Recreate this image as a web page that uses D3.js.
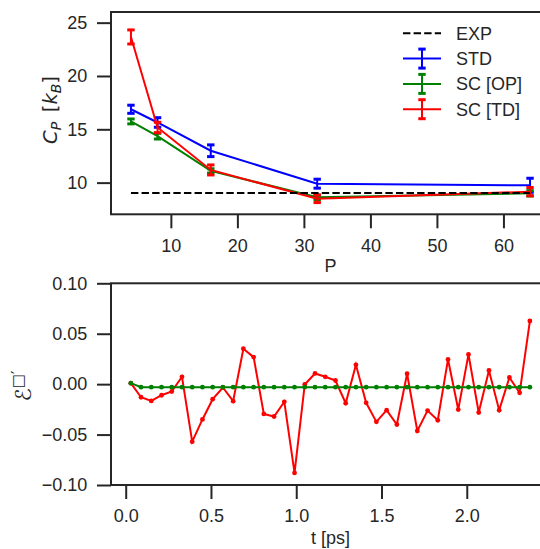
<!DOCTYPE html>
<html>
<head>
<meta charset="utf-8">
<script src="https://cdn.jsdelivr.net/npm/d3@7"></script>
<style>
  html, body { margin: 0; padding: 0; background: #fff; }
  svg { display: block; }
  text { font-family: "Liberation Sans", Arial, sans-serif; fill: #262626; }
</style>
</head>
<body>
<svg id="chart" width="540" height="549"></svg>
<script>
// ---------- Data: top panel ----------
const P = [4, 8, 16, 32, 64];
const stdMean = [16.88, 15.64, 12.99, 9.90, 9.75];
const stdErr  = [0.38, 0.45, 0.55, 0.42, 0.66];
const opMean  = [15.74, 14.36, 11.10, 8.62, 9.00];
const opErr   = [0.23, 0.27, 0.20, 0.20, 0.25];
const tdMean  = [23.66, 15.17, 11.19, 8.49, 9.15];
const tdErr   = [0.66, 0.49, 0.47, 0.36, 0.39];
const expValue = 9.03;
const topXTicks = [10, 20, 30, 40, 50, 60];
const topYTicks = [10, 15, 20, 25];

// ---------- Data: bottom panel ----------
const tPs = [0.03, 0.09, 0.15, 0.21, 0.27, 0.33, 0.39, 0.45, 0.51, 0.57,
             0.63, 0.69, 0.75, 0.81, 0.87, 0.93, 0.99, 1.05, 1.11, 1.17,
             1.23, 1.29, 1.35, 1.41, 1.47, 1.53, 1.59, 1.65, 1.71, 1.77,
             1.83, 1.89, 1.95, 2.01, 2.07, 2.13, 2.19, 2.25, 2.31, 2.37];
const redSeries = [0.001, -0.013, -0.0166, -0.011, -0.0073, 0.0073, -0.057, -0.035, -0.0149, -0.0033,
                   -0.0169, 0.0351, 0.0268, -0.0295, -0.0321, -0.0175, -0.088, -0.0003, 0.0106, 0.0073,
                   0.0036, -0.0189, 0.0192, -0.0185, -0.0374, -0.0258, -0.040, 0.0103, -0.0464, -0.0262,
                   -0.0358, 0.0245, -0.0252, 0.0295, -0.0281, 0.0136, -0.0258, 0.0066, -0.0086, 0.0626];
const greenSeries = [0.001, -0.003, -0.003, -0.003, -0.003, -0.003, -0.003, -0.003, -0.003, -0.003,
                     -0.003, -0.003, -0.003, -0.003, -0.003, -0.003, -0.003, -0.003, -0.003, -0.003,
                     -0.003, -0.003, -0.003, -0.003, -0.003, -0.003, -0.003, -0.003, -0.003, -0.003,
                     -0.003, -0.003, -0.003, -0.003, -0.003, -0.003, -0.003, -0.003, -0.003, -0.003];
const botXTicks = [0.0, 0.5, 1.0, 1.5, 2.0];
const botYTicks = [-0.10, -0.05, 0.00, 0.05, 0.10];

const legendItems = [
  { label: "EXP", color: "#000000", kind: "dash" },
  { label: "STD", color: "#0000ff", kind: "err" },
  { label: "SC [OP]", color: "#008000", kind: "err" },
  { label: "SC [TD]", color: "#ff0000", kind: "err" }
];

// ---------- Layout ----------
const svg = d3.select("#chart");
const FS = 18;
const AX = "#262626";
const left = 111, right = 550;
const top1 = 12, bot1 = 214.3;
const top2 = 283.3, bot2 = 485;

const x1 = d3.scaleLinear().domain([1, 67]).range([left, right]);
const y1 = d3.scaleLinear().domain([7.03, 26.0]).range([bot1, top1]);
const x2 = d3.scaleLinear().domain([-0.0862, 2.488]).range([left, right]);
const y2 = d3.scaleLinear().domain([-0.1, 0.1]).range([bot2, top2]);

const minusFmt = s => s.replace("-", "\u2212");

function drawAxes(g, xs, ys, xt, yt, xfmt, yfmt, topY, botY) {
  const xa = d3.axisBottom(xs).tickValues(xt).tickSize(14).tickPadding(10.5).tickFormat(d => minusFmt(xfmt(d)));
  const ya = d3.axisLeft(ys).tickValues(yt).tickSize(14).tickPadding(9.7).tickFormat(d => minusFmt(yfmt(d)));
  const gx = g.append("g").attr("transform", `translate(0,${botY})`).call(xa);
  const gy = g.append("g").attr("transform", `translate(${left},0)`).call(ya);
  [gx, gy].forEach(a => {
    a.select(".domain").remove();
    a.selectAll(".tick line").attr("stroke", AX).attr("stroke-width", 2);
    a.selectAll(".tick text").attr("font-size", FS).attr("fill", AX)
      .style("font-family", '"Liberation Sans", Arial, sans-serif');
  });
  g.append("rect").attr("x", left).attr("y", topY).attr("width", right - left).attr("height", botY - topY)
    .attr("fill", "none").attr("stroke", AX).attr("stroke-width", 2);
}

// ---------- Top panel ----------
const g1 = svg.append("g");
drawAxes(g1, x1, y1, topXTicks, topYTicks, d3.format("d"), d3.format("d"), top1, bot1);

function drawErrSeries(g, means, errs, color) {
  const line = d3.line().x((d, i) => x1(P[i])).y(d => y1(d));
  g.append("path").datum(means).attr("d", line).attr("fill", "none")
    .attr("stroke", color).attr("stroke-width", 2);
  const capW = 3.7;
  means.forEach((m, i) => {
    const cx = x1(P[i]);
    const yt = y1(m + errs[i]), yb = y1(m - errs[i]);
    g.append("line").attr("x1", cx).attr("x2", cx).attr("y1", yt).attr("y2", yb)
      .attr("stroke", color).attr("stroke-width", 2);
    [yt, yb].forEach(yy => g.append("line").attr("x1", cx - capW).attr("x2", cx + capW)
      .attr("y1", yy).attr("y2", yy).attr("stroke", color).attr("stroke-width", 3));
  });
}
drawErrSeries(g1, stdMean, stdErr, "#0000ff");
drawErrSeries(g1, opMean, opErr, "#008000");
drawErrSeries(g1, tdMean, tdErr, "#ff0000");

g1.append("line").attr("x1", x1(P[0])).attr("x2", x1(P[P.length - 1]))
  .attr("y1", y1(expValue)).attr("y2", y1(expValue))
  .attr("stroke", "#000").attr("stroke-width", 2).attr("stroke-dasharray", "7.4,3.2");

// Legend
const lg = svg.append("g");
legendItems.forEach((it, i) => {
  const yy = 33.3 + i * 25.3;
  if (it.kind === "dash") {
    lg.append("line").attr("x1", 403).attr("x2", 441).attr("y1", yy).attr("y2", yy)
      .attr("stroke", it.color).attr("stroke-width", 2).attr("stroke-dasharray", "7.4,3.2");
  } else {
    lg.append("line").attr("x1", 403).attr("x2", 441).attr("y1", yy).attr("y2", yy)
      .attr("stroke", it.color).attr("stroke-width", 2);
    lg.append("line").attr("x1", 422).attr("x2", 422).attr("y1", yy - 9.5).attr("y2", yy + 9.5)
      .attr("stroke", it.color).attr("stroke-width", 2);
    [yy - 9.5, yy + 9.5].forEach(c => lg.append("line").attr("x1", 418.3).attr("x2", 425.7)
      .attr("y1", c).attr("y2", c).attr("stroke", it.color).attr("stroke-width", 3));
  }
  lg.append("text").attr("x", 456).attr("y", yy).attr("dy", "0.36em")
    .attr("font-size", FS).text(it.label);
});

// Axis labels top
svg.append("text").attr("x", (left + right) / 2).attr("y", 271.7)
  .attr("text-anchor", "middle").attr("font-size", FS).text("P");

const yl1 = svg.append("text").attr("transform", `translate(57,110) rotate(-90)`)
  .attr("text-anchor", "middle").attr("font-size", 19.5)
  .style("font-family", '"DejaVu Sans", sans-serif');
yl1.append("tspan").attr("font-style", "italic").text("C");
yl1.append("tspan").attr("font-style", "italic").attr("font-size", 14).attr("dy", 3.5).text("P");
yl1.append("tspan").attr("dy", -3.5).text("\u2002[");
yl1.append("tspan").attr("font-style", "italic").text("k");
yl1.append("tspan").attr("font-style", "italic").attr("font-size", 14).attr("dy", 3.5).text("B");
yl1.append("tspan").attr("dy", -3.5).text("]");

// ---------- Bottom panel ----------
const g2 = svg.append("g");
drawAxes(g2, x2, y2, botXTicks, botYTicks, d3.format(".1f"), d3.format(".2f"), top2, bot2);

function drawDotSeries(g, vals, color) {
  const line = d3.line().x((d, i) => x2(tPs[i])).y(d => y2(d));
  g.append("path").datum(vals).attr("d", line).attr("fill", "none")
    .attr("stroke", color).attr("stroke-width", 2);
  g.selectAll(null).data(vals).enter().append("circle")
    .attr("cx", (d, i) => x2(tPs[i])).attr("cy", d => y2(d)).attr("r", 2.4).attr("fill", color);
}
drawDotSeries(g2, redSeries, "#ff0000");
drawDotSeries(g2, greenSeries, "#008000");

svg.append("text").attr("x", (left + right) / 2).attr("y", 544)
  .attr("text-anchor", "middle").attr("font-size", FS).text("t [ps]");

const yl2 = svg.append("text").attr("transform", `translate(31,386) rotate(-90)`)
  .attr("text-anchor", "middle").attr("font-size", 22)
  .style("font-family", '"DejaVu Sans", sans-serif');
yl2.append("tspan").text("\u2130");
yl2.append("tspan").attr("font-size", 15).attr("dy", -8).text("\u25A1\u2032");
</script>
</body>
</html>
